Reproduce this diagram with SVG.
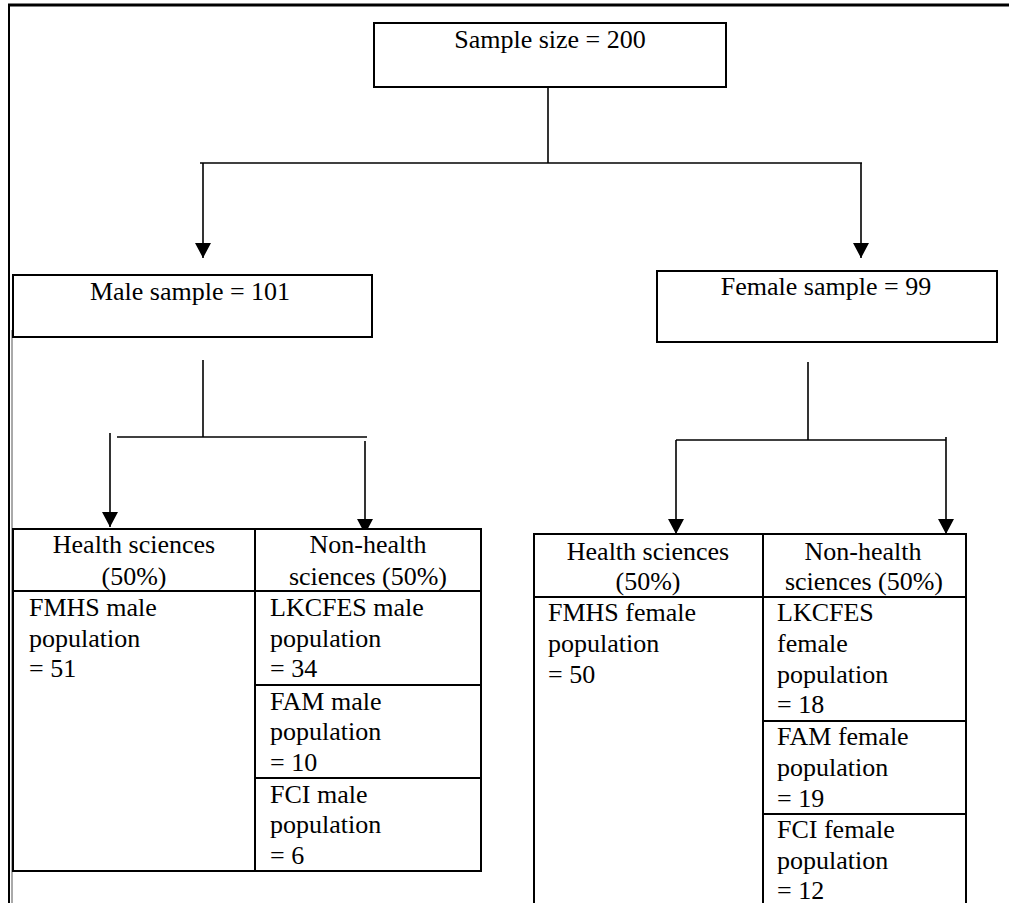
<svg xmlns="http://www.w3.org/2000/svg" width="1009" height="903" viewBox="0 0 1009 903" font-family="Liberation Serif, Times New Roman, serif" font-size="26">
<style>
text{fill:#000;font-family:'Liberation Serif','Times New Roman',serif;font-size:26px}
.c{text-anchor:middle}
.box{fill:#fff;stroke:#000;stroke-width:2}
.ln{fill:none;stroke:#000;stroke-width:2}
.conn{fill:none;stroke:#000;stroke-width:1.6}
</style>
<defs>
<marker id="arr" markerUnits="userSpaceOnUse" markerWidth="16" markerHeight="17" refX="15" refY="8" orient="auto">
<path d="M0,0 L15,8 L0,16 z" fill="#000"/>
</marker>
</defs>
<rect width="1009" height="903" fill="#fff"/>
<g id="frame">
<line x1="8" y1="5" x2="1009" y2="5" stroke="#000" stroke-width="3"/>
<line x1="9" y1="4" x2="9" y2="903" stroke="#000" stroke-width="2"/>
<line x1="12" y1="330" x2="12" y2="903" stroke="#555" stroke-width="1"/>
</g>
<g id="connectors">
<line class="conn" x1="548" y1="87" x2="548" y2="163"/>
<line class="conn" x1="200" y1="163" x2="862" y2="163"/>
<line class="conn" x1="203" y1="163" x2="203" y2="258" marker-end="url(#arr)"/>
<line class="conn" x1="861" y1="163" x2="861" y2="258" marker-end="url(#arr)"/>
<line class="conn" x1="203" y1="360" x2="203" y2="437"/>
<line class="conn" x1="117" y1="437" x2="367" y2="437"/>
<line class="conn" x1="110" y1="433" x2="110" y2="527" marker-end="url(#arr)"/>
<line class="conn" x1="365" y1="441" x2="365" y2="534" marker-end="url(#arr)"/>
<line class="conn" x1="808" y1="362" x2="808" y2="440"/>
<line class="conn" x1="676" y1="440" x2="946" y2="440"/>
<line class="conn" x1="676" y1="440" x2="676" y2="534" marker-end="url(#arr)"/>
<line class="conn" x1="946" y1="437" x2="946" y2="534" marker-end="url(#arr)"/>
</g>
<g id="node-total">
<rect class="box" x="374" y="23" width="352" height="64" stroke-width="1.6"/>
<text class="c" x="550" y="48">Sample size = 200</text>
</g>
<g id="node-male">
<rect class="box" x="13" y="275" width="359" height="62"/>
<text class="c" x="190" y="300">Male sample = 101</text>
</g>
<g id="node-female">
<rect class="box" x="657" y="271" width="340" height="71"/>
<text class="c" x="826" y="295">Female sample = 99</text>
</g>
<g id="table-male">
<rect class="box" x="13" y="529" width="468" height="342" fill="none"/>
<line class="ln" x1="13" y1="591" x2="481" y2="591"/>
<line class="ln" x1="255" y1="529" x2="255" y2="871"/>
<line class="ln" x1="255" y1="685" x2="481" y2="685"/>
<line class="ln" x1="255" y1="778" x2="481" y2="778"/>
<text class="c" x="134" y="553">Health sciences</text>
<text class="c" x="134" y="585">(50%)</text>
<text class="c" x="368" y="553">Non-health</text>
<text class="c" x="368" y="585">sciences (50%)</text>
<text x="29" y="616">FMHS male</text>
<text x="29" y="647">population</text>
<text x="29" y="677">= 51</text>
<text x="270" y="616">LKCFES male</text>
<text x="270" y="647">population</text>
<text x="270" y="677">= 34</text>
<text x="270" y="710">FAM male</text>
<text x="270" y="740">population</text>
<text x="270" y="771">= 10</text>
<text x="270" y="803">FCI male</text>
<text x="270" y="833">population</text>
<text x="270" y="864">= 6</text>
</g>
<g id="table-female">
<rect class="box" x="534" y="534" width="432" height="380"/>
<line class="ln" x1="534" y1="597" x2="966" y2="597"/>
<line class="ln" x1="763" y1="534" x2="763" y2="914"/>
<line class="ln" x1="763" y1="721" x2="966" y2="721"/>
<line class="ln" x1="763" y1="814" x2="966" y2="814"/>
<text class="c" x="648" y="560">Health sciences</text>
<text class="c" x="648" y="590">(50%)</text>
<text class="c" x="863" y="560">Non-health</text>
<text class="c" x="864" y="590">sciences (50%)</text>
<text x="548" y="621">FMHS female</text>
<text x="548" y="652">population</text>
<text x="548" y="683">= 50</text>
<text x="777" y="621">LKCFES</text>
<text x="777" y="652">female</text>
<text x="777" y="683">population</text>
<text x="777" y="713">= 18</text>
<text x="777" y="745">FAM female</text>
<text x="777" y="776">population</text>
<text x="777" y="807">= 19</text>
<text x="777" y="838">FCI female</text>
<text x="777" y="869">population</text>
<text x="777" y="899">= 12</text>
</g>
</svg>
